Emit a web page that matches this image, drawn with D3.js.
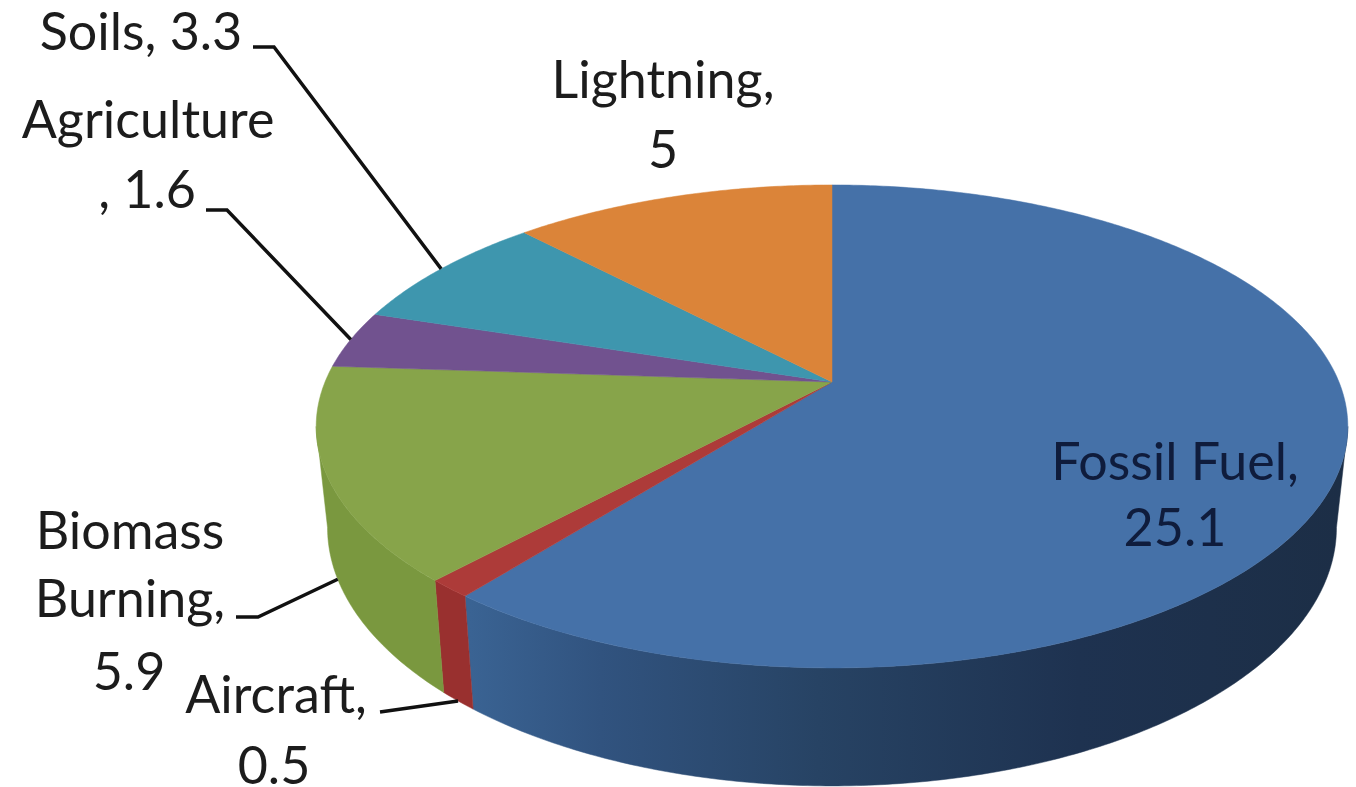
<!DOCTYPE html>
<html>
<head>
<meta charset="utf-8">
<style>
html,body{margin:0;padding:0;background:#fff;overflow:hidden;}
svg{display:block;}
text{font-family:Lato,"Open Sans",sans-serif;font-size:52px;fill:#1c1c1c;}
</style>
<script src="https://cdn.jsdelivr.net/npm/d3@7"></script>
</head>
<body>
<svg id="chart" width="1356" height="787"></svg>
<script>
// Data
const categories = ["Fossil Fuel", "Aircraft", "Biomass Burning", "Agriculture", "Soils", "Lightning"];
const values = [25.1, 0.5, 5.9, 1.6, 3.3, 5];

// Styles
const topColors = ["#4571a8", "#ad3b39", "#87a44a", "#71528f", "#3e96ae", "#db8439"];
const wallColors = ["url(#fossilWall)", "#99302f", "#7a983f", null, null, null];

// Label layout: text lines (anchored at centre) and leader-line elbows
const labelLines = [
  [{t:"Fossil Fuel,", x:1175, y:480, fill:"#0f1c3c"}, {t:"25.1", x:1175, y:546, fill:"#0f1c3c"}],
  [{t:"Aircraft,", x:276, y:713}, {t:"0.5", x:274, y:784}],
  [{t:"Biomass", x:130, y:549}, {t:"Burning,", x:130, y:617}, {t:"5.9", x:129, y:690}],
  [{t:"Agriculture", x:148, y:138}, {t:", 1.6", x:147, y:208}],
  [{t:"Soils, 3.3", x:141, y:50}],
  [{t:"Lightning,", x:663, y:98}, {t:"5", x:663, y:168}]
];
const leaderElbows = [
  null,
  [[380,712]],
  [[236,617],[258,617]],
  [[206,210],[227,210]],
  [[253,47],[274,47]],
  null
];
const leaderOnBase = [false, true, true, false, false, false];

// Perspective projection of the pie disc
const cx = 832, cy = 382, a = 507, b = 233.3, k = 0.184;
const baseScaleX = 0.978, baseScaleY = 1.07, baseDrop = 98;
function projectTop(theta) {
  const ux = Math.sin(theta), uy = -Math.cos(theta);
  const w = 1 - k * uy;
  return [cx + a * ux / w, cy + b * uy / w];
}
function projectBase(theta) {
  const p = projectTop(theta);
  return [cx + (p[0] - cx) * baseScaleX, cy + baseDrop + (p[1] - cy) * baseScaleY];
}

const svg = d3.select("#chart");
const defs = svg.append("defs");
const grad = defs.append("linearGradient").attr("id", "fossilWall")
  .attr("gradientUnits", "userSpaceOnUse")
  .attr("x1", 470).attr("x2", 1340).attr("y1", 0).attr("y2", 0);
[[0, "#3a6393"], [0.15, "#31537f"], [0.4, "#274364"], [0.7, "#1e3250"], [1, "#1c2e46"]]
  .forEach(s => grad.append("stop").attr("offset", s[0]).attr("stop-color", s[1]));

const pie = d3.pie().sort(null).value(d => d);
const arcs = pie(values);
const line = d3.line();

function arcAngles(a0, a1) {
  const n = Math.max(2, Math.ceil((a1 - a0) / 0.01));
  return d3.range(n + 1).map(i => a0 + (a1 - a0) * i / n);
}

// Visible outer wall range: silhouette tangents of the disc
const wallStart = Math.acos(-k), wallEnd = 2 * Math.PI - wallStart;

const walls = svg.append("g");
arcs.forEach((d, i) => {
  const s = Math.max(d.startAngle, wallStart), e = Math.min(d.endAngle, wallEnd);
  if (!wallColors[i] || e <= s) return;
  const angles = arcAngles(s, e);
  const pts = angles.map(projectTop)
    .concat(angles.slice().reverse().map(projectBase));
  walls.append("path").attr("d", line(pts) + "Z")
    .attr("fill", wallColors[i]).attr("stroke", wallColors[i]).attr("stroke-width", 0.5);
});

const top_ = svg.append("g");
arcs.forEach((d, i) => {
  const pts = [[cx, cy]].concat(arcAngles(d.startAngle, d.endAngle).map(projectTop));
  top_.append("path").attr("d", line(pts) + "Z")
    .attr("fill", topColors[i]).attr("stroke", topColors[i]).attr("stroke-width", 0.5);
});

// Leader lines end on the slice's mid-angle
const leaders = svg.append("g");
arcs.forEach((d, i) => {
  if (!leaderElbows[i]) return;
  const mid = (d.startAngle + d.endAngle) / 2;
  const end = leaderOnBase[i] ? projectBase(mid) : projectTop(mid);
  leaders.append("path").attr("d", line(leaderElbows[i].concat([end])))
    .attr("fill", "none").attr("stroke", "#111").attr("stroke-width", 3.5);
});

// Labels
svg.append("g").selectAll("text")
  .data(labelLines.flat())
  .join("text")
  .attr("x", d => d.x).attr("y", d => d.y)
  .attr("text-anchor", "middle")
  .style("fill", d => d.fill || null)
  .text(d => d.t);
</script>
</body>
</html>
